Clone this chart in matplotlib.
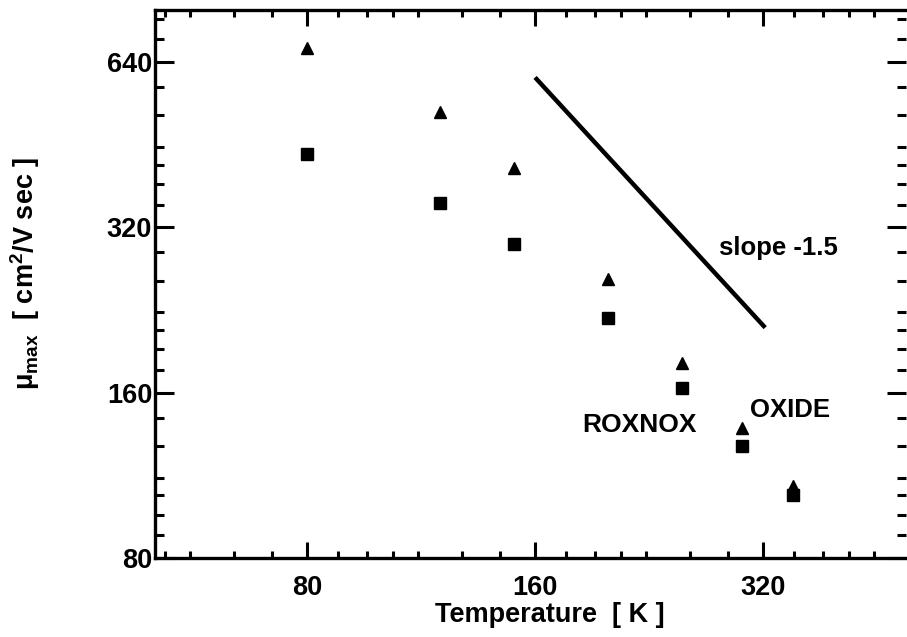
import matplotlib
matplotlib.use("Agg")
import matplotlib.pyplot as plt
from matplotlib.ticker import FixedLocator, NullFormatter
import numpy as np

plt.rcParams['font.family'] = ['Liberation Sans', 'DejaVu Sans']
plt.rcParams['font.weight'] = 'bold'
plt.rcParams['mathtext.fontset'] = 'custom'
plt.rcParams['mathtext.rm'] = 'Liberation Sans:bold'
plt.rcParams['mathtext.it'] = 'Liberation Sans:bold'
plt.rcParams['mathtext.bf'] = 'Liberation Sans:bold'

# Peak mobility vs temperature
temperature = [80, 120, 150, 200, 250, 300, 350]
mu_oxide = [679, 519, 410, 258, 181, 138, 108]
mu_roxnox = [435, 354, 299, 219, 163, 128, 104]

# Reference power-law guide
slope_T = [160, 322]
slope_mu0 = 600
slope_exp = -1.5

x_major = [80, 160, 320]
y_major = [80, 160, 320, 640]
minor_factors = [1.1, 1.2, 1.3, 1.4, 1.6, 1.8]

xlim = (50.4, 494)
ylim = (80, 796)

fig = plt.figure(figsize=(9.07, 6.37), dpi=100)
ax = fig.add_axes([155 / 907, 1 - 558 / 637, 751 / 907, 548 / 637])
ax.set_xscale('log')
ax.set_yscale('log')
ax.set_xlim(*xlim)
ax.set_ylim(*ylim)

ax.plot(temperature, mu_oxide, linestyle='none', marker='^', ms=8, color='black')
ax.plot(temperature, mu_roxnox, linestyle='none', marker='s', ms=9, color='black')

sx = np.array(slope_T, dtype=float)
sy = slope_mu0 * (sx / sx[0]) ** slope_exp
ax.plot(sx, sy, color='black', lw=3.2, solid_capstyle='butt')

ax.text(335, 293, 'slope -1.5', fontsize=18.5, fontweight='bold', ha='center', va='center')
ax.text(219.5, 140, 'ROXNOX', fontsize=19, fontweight='bold', ha='center', va='center')
ax.text(347, 148.5, 'OXIDE', fontsize=18.5, fontweight='bold', ha='center', va='center')


def minor_ticks(bases, lo, hi):
    vals = [b * f for b in bases for f in minor_factors]
    return [v for v in vals if lo < v < hi]


ax.xaxis.set_major_locator(FixedLocator(x_major))
ax.xaxis.set_minor_locator(FixedLocator(minor_ticks([40, 80, 160, 320], *xlim)))
ax.yaxis.set_major_locator(FixedLocator(y_major))
ax.yaxis.set_minor_locator(FixedLocator(minor_ticks([40, 80, 160, 320, 640], *ylim)))
ax.set_xticklabels([str(v) for v in x_major])
ax.set_yticklabels([str(v) for v in y_major])
ax.xaxis.set_minor_formatter(NullFormatter())
ax.yaxis.set_minor_formatter(NullFormatter())

ax.tick_params(axis='both', which='both', direction='in', top=True, right=True,
               width=2.2, labelsize=19.5)
ax.tick_params(axis='x', which='major', length=11.5, pad=12)
ax.tick_params(axis='x', which='minor', length=5)
ax.tick_params(axis='y', which='major', length=13.5, pad=2)
ax.tick_params(axis='y', which='minor', length=6.5)
for lab in ax.get_xticklabels() + ax.get_yticklabels():
    lab.set_fontweight('bold')

for side in ['left', 'bottom', 'top']:
    ax.spines[side].set_linewidth(2.4)
ax.spines['right'].set_visible(False)

fig.text(550 / 907, 1 - 615 / 637, 'Temperature  [ K ]', fontsize=19.5, fontweight='bold',
         ha='center', va='center')
fig.text(25 / 907, 1 - 273 / 637, r'$\mu_{\rm max}$  [ cm$^{\rm 2}$/V sec ]',
         fontsize=19.5, fontweight='bold', rotation=90, ha='center', va='center')

fig.savefig('out.png', dpi=100)
